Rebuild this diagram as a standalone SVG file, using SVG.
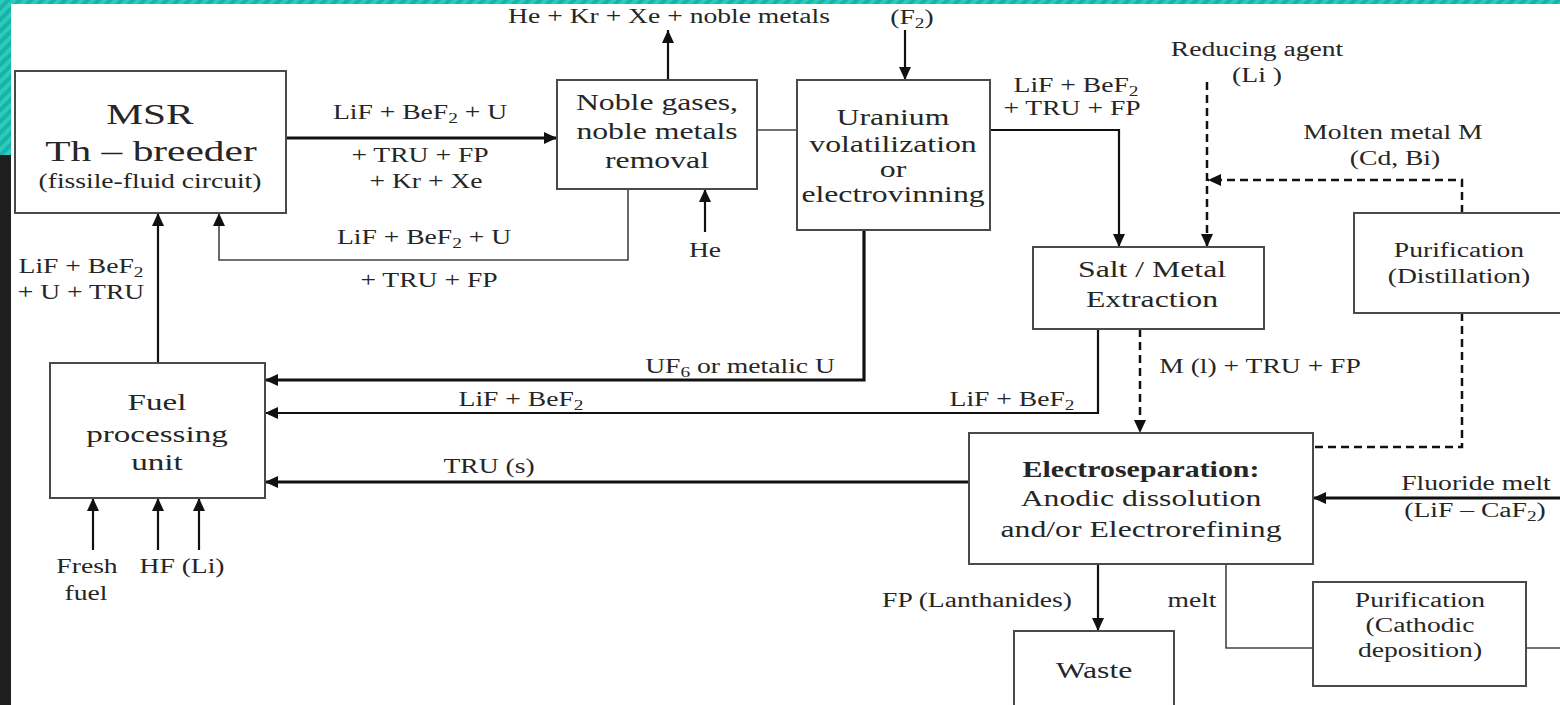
<svg xmlns="http://www.w3.org/2000/svg" width="1560" height="705" viewBox="0 0 1560 705">
  <defs>
    <style>
      .t{font-family:"Liberation Serif","Times New Roman",serif;font-size:20px;fill:#262626;text-anchor:middle}
      .f30{font-size:30px}
      .f24{font-size:24px}
      .f23{font-size:23px}
      .bold{font-weight:bold}
      .s{font-size:14px}
      .box{fill:#fff;stroke:#4a4a4a;stroke-width:2}
      .ln{fill:none;stroke:#111;stroke-width:2.2}
      .thk{stroke-width:3.2}
      .thin{stroke:#444;stroke-width:1.6}
      .dash{stroke-dasharray:8 5;stroke-width:2.5}
    </style>
    <marker id="ah" markerUnits="userSpaceOnUse" markerWidth="14" markerHeight="12" refX="13" refY="6" orient="auto">
      <path d="M0,0 L13,6 L0,12 z" fill="#111"/>
    </marker>
    <pattern id="hatch" width="8" height="8" patternUnits="userSpaceOnUse" patternTransform="rotate(45)">
      <rect width="8" height="8" fill="#17b3a6"/>
      <rect width="4" height="8" fill="#2ccbbd"/>
    </pattern>
  </defs>

  <!-- page frame -->
  <rect width="1560" height="705" fill="#fff"/>
  <rect x="0" y="0" width="1560" height="4" fill="url(#hatch)"/>
  <rect x="0" y="0" width="11" height="155" fill="url(#hatch)"/>
  <rect x="0" y="155" width="11" height="550" fill="#1f1f1f"/>

  <!-- connectors -->
  <g id="connectors">
    <path class="ln thk" d="M286,138 H557" marker-end="url(#ah)"/>
    <path class="ln thin" d="M757,130 H797"/>
    <path class="ln thin" d="M628,189 V260 H219 V213" marker-end="url(#ah)"/>
    <path class="ln" d="M705,232 V189" marker-end="url(#ah)"/>
    <path class="ln" d="M668,80 V30" marker-end="url(#ah)"/>
    <path class="ln" d="M905,30 V80" marker-end="url(#ah)"/>
    <path class="ln" d="M990,130 H1119 V247" marker-end="url(#ah)"/>
    <path class="ln dash" d="M1207,82 V247" marker-end="url(#ah)"/>
    <path class="ln dash" d="M1462,213 V180 H1208" marker-end="url(#ah)"/>
    <path class="ln thk" d="M864,230 V380 H265" marker-end="url(#ah)"/>
    <path class="ln" d="M1098,329 V413 H265" marker-end="url(#ah)"/>
    <path class="ln dash" d="M1140,329 V433" marker-end="url(#ah)"/>
    <path class="ln dash" d="M1462,313 V447 H1313"/>
    <path class="ln thk" d="M969,482 H265" marker-end="url(#ah)"/>
    <path class="ln thk" d="M1560,498 H1313" marker-end="url(#ah)"/>
    <path class="ln" d="M1098,564 V631" marker-end="url(#ah)"/>
    <path class="ln thin" d="M1226,564 V648 H1313"/>
    <path class="ln thin" d="M1526,648 H1560"/>
    <path class="ln" d="M158,363 V213" marker-end="url(#ah)"/>
    <path class="ln" d="M93,550 V498" marker-end="url(#ah)"/>
    <path class="ln" d="M158,550 V498" marker-end="url(#ah)"/>
    <path class="ln" d="M199,550 V498" marker-end="url(#ah)"/>
  </g>

  <!-- process units -->
  <g id="msr">
    <rect class="box" x="15" y="71" width="271" height="142"/>
    <text class="t f30" transform="translate(150 124) scale(1.38 1)">MSR</text>
    <text class="t f30" transform="translate(151 161) scale(1.38 1)">Th – breeder</text>
    <text class="t" transform="translate(150 188) scale(1.38 1)">(fissile-fluid circuit)</text>
  </g>
  <g id="noble">
    <rect class="box" x="557" y="80" width="200" height="109"/>
    <text class="t f23" transform="translate(657 110) scale(1.38 1)">Noble gases,</text>
    <text class="t f23" transform="translate(657 139) scale(1.38 1)">noble metals</text>
    <text class="t f23" transform="translate(657 168) scale(1.38 1)">removal</text>
  </g>
  <g id="uranium">
    <rect class="box" x="797" y="80" width="193" height="150"/>
    <text class="t f23" transform="translate(893 125) scale(1.38 1)">Uranium</text>
    <text class="t f23" transform="translate(893 152) scale(1.38 1)">volatilization</text>
    <text class="t f23" transform="translate(893 177) scale(1.38 1)">or</text>
    <text class="t f23" transform="translate(893 202) scale(1.38 1)">electrovinning</text>
  </g>
  <g id="salt">
    <rect class="box" x="1033" y="247" width="231" height="82"/>
    <text class="t f23" transform="translate(1152 277) scale(1.38 1)">Salt / Metal</text>
    <text class="t f23" transform="translate(1152 307) scale(1.38 1)">Extraction</text>
  </g>
  <g id="distillation">
    <rect class="box" x="1354" y="213" width="220" height="100"/>
    <text class="t" transform="translate(1459 257) scale(1.38 1)">Purification</text>
    <text class="t" transform="translate(1459 283) scale(1.38 1)">(Distillation)</text>
  </g>
  <g id="fuel">
    <rect class="box" x="50" y="363" width="215" height="135"/>
    <text class="t f24" transform="translate(157 410) scale(1.38 1)">Fuel</text>
    <text class="t f24" transform="translate(157 442) scale(1.38 1)">processing</text>
    <text class="t f24" transform="translate(157 470) scale(1.38 1)">unit</text>
  </g>
  <g id="electroseparation">
    <rect class="box" x="969" y="433" width="344" height="131"/>
    <text class="t f23 bold" transform="translate(1141 477) scale(1.3 1)">Electroseparation:</text>
    <text class="t f23" transform="translate(1141 506) scale(1.38 1)">Anodic dissolution</text>
    <text class="t f23" transform="translate(1141 537) scale(1.38 1)">and/or Electrorefining</text>
  </g>
  <g id="waste">
    <rect class="box" x="1014" y="631" width="160" height="90"/>
    <text class="t f23" transform="translate(1094 678) scale(1.38 1)">Waste</text>
  </g>
  <g id="cathodic">
    <rect class="box" x="1313" y="582" width="213" height="104"/>
    <text class="t" transform="translate(1420 607) scale(1.38 1)">Purification</text>
    <text class="t" transform="translate(1420 632) scale(1.38 1)">(Cathodic</text>
    <text class="t" transform="translate(1420 657) scale(1.38 1)">deposition)</text>
  </g>

  <!-- stream labels -->
  <g id="labels">
    <text class="t" transform="translate(669 23) scale(1.38 1)">He + Kr + Xe + noble metals</text>
    <text class="t" transform="translate(912 24) scale(1.38 1)">(F<tspan class="s" dy="4">2</tspan><tspan dy="-4">)</tspan></text>
    <text class="t" transform="translate(420 119) scale(1.38 1)">LiF + BeF<tspan class="s" dy="4">2</tspan><tspan dy="-4"> + U</tspan></text>
    <text class="t" transform="translate(420 162) scale(1.38 1)">+ TRU + FP</text>
    <text class="t" transform="translate(426 188) scale(1.38 1)">+ Kr + Xe</text>
    <text class="t" transform="translate(424 244) scale(1.38 1)">LiF + BeF<tspan class="s" dy="4">2</tspan><tspan dy="-4"> + U</tspan></text>
    <text class="t" transform="translate(429 287) scale(1.38 1)">+ TRU + FP</text>
    <text class="t" transform="translate(705 257) scale(1.38 1)">He</text>
    <text class="t" transform="translate(1076 92) scale(1.38 1)">LiF + BeF<tspan class="s" dy="4">2</tspan></text>
    <text class="t" transform="translate(1072 115) scale(1.38 1)">+ TRU + FP</text>
    <text class="t" transform="translate(1257 56) scale(1.38 1)">Reducing agent</text>
    <text class="t" transform="translate(1257 82) scale(1.38 1)">(Li )</text>
    <text class="t" transform="translate(1393 139) scale(1.38 1)">Molten metal M</text>
    <text class="t" transform="translate(1395 165) scale(1.38 1)">(Cd, Bi)</text>
    <text class="t" transform="translate(1260 373) scale(1.38 1)">M (l) + TRU + FP</text>
    <text class="t" transform="translate(740 373) scale(1.38 1)">UF<tspan class="s" dy="4">6</tspan><tspan dy="-4"> or metalic U</tspan></text>
    <text class="t" transform="translate(521 406) scale(1.38 1)">LiF + BeF<tspan class="s" dy="4">2</tspan></text>
    <text class="t" transform="translate(1012 406) scale(1.38 1)">LiF + BeF<tspan class="s" dy="4">2</tspan></text>
    <text class="t" transform="translate(489 473) scale(1.38 1)">TRU (s)</text>
    <text class="t" transform="translate(81 273) scale(1.38 1)">LiF + BeF<tspan class="s" dy="4">2</tspan></text>
    <text class="t" transform="translate(81 299) scale(1.38 1)">+ U + TRU</text>
    <text class="t" transform="translate(87 573) scale(1.38 1)">Fresh</text>
    <text class="t" transform="translate(86 600) scale(1.38 1)">fuel</text>
    <text class="t" transform="translate(182 573) scale(1.38 1)">HF (Li)</text>
    <text class="t" transform="translate(1476 490) scale(1.38 1)">Fluoride melt</text>
    <text class="t" transform="translate(1475 517) scale(1.38 1)">(LiF – CaF<tspan class="s" dy="4">2</tspan><tspan dy="-4">)</tspan></text>
    <text class="t" transform="translate(977 607) scale(1.38 1)">FP (Lanthanides)</text>
    <text class="t" transform="translate(1192 607) scale(1.38 1)">melt</text>
  </g>
</svg>
